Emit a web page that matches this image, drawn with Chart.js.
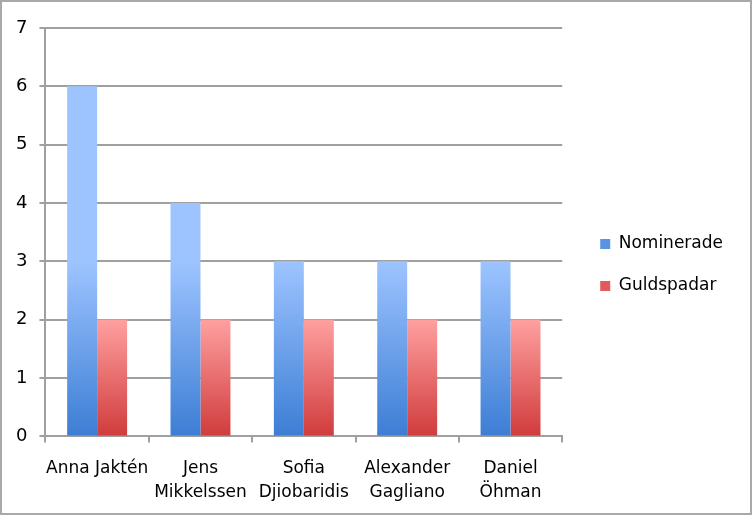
<!DOCTYPE html>
<html>
<head>
<meta charset="utf-8">
<script src="https://cdn.jsdelivr.net/npm/chart.js@4/dist/chart.umd.min.js"></script>
<style>
  html, body { margin: 0; padding: 0; background: #fff; }
  #wrap { position: absolute; left: 0; top: 0; width: 748px; height: 511px; border: 2px solid #a9a9a9; }
  canvas { position: absolute; left: 0; top: 0; }
</style>
</head>
<body>
<div id="wrap"></div>
<canvas id="c" width="752" height="515"></canvas>
<script>
const categories = [["Anna Jaktén"], ["Jens", "Mikkelssen"], ["Sofia", "Djiobaridis"], ["Alexander", "Gagliano"], ["Daniel", "Öhman"]];
const seriesNames = ["Nominerade", "Guldspadar"];
const nominerade = [6, 4, 3, 3, 3];
const guldspadar = [2, 2, 2, 2, 2];
const yTicks = [0, 1, 2, 3, 4, 5, 6, 7];

const gradStops = [
  ["#9dc4ff", "#3d7ed5"],
  ["#ffa0a0", "#d13c3c"]
];

const gradientPlugin = {
  id: 'barGradient',
  beforeDraw(chart) {
    // nudge the legend box into place
    const lg = chart.legend;
    if (lg) { lg.left += 13; lg.right += 13; lg.top -= 8; lg.bottom -= 8; }
  },
  beforeDatasetsDraw(chart) {
    const ctx = chart.ctx;
    chart.data.datasets.forEach((ds, i) => {
      const meta = chart.getDatasetMeta(i);
      meta.data.forEach(el => {
        const g = ctx.createLinearGradient(0, el.y, 0, el.base);
        g.addColorStop(0, gradStops[i][0]);
        g.addColorStop(1, gradStops[i][1]);
        el.options.backgroundColor = g;
      });
    });
  }
};

const fam = "'DejaVu Sans', sans-serif";

new Chart(document.getElementById('c'), {
  type: 'bar',
  data: {
    labels: categories,
    datasets: [
      { label: seriesNames[0], data: nominerade, backgroundColor: '#5a93e2', borderWidth: 0 },
      { label: seriesNames[1], data: guldspadar, backgroundColor: '#e45a5a', borderWidth: 0 }
    ]
  },
  options: {
    responsive: false,
    animation: false,
    devicePixelRatio: 1,
    categoryPercentage: 0.58,
    barPercentage: 1.0,
    layout: { padding: { left: 4, top: 28, right: 32, bottom: -3 } },
    plugins: {
      tooltip: { enabled: false },
      legend: {
        position: 'right',
        labels: { font: { family: fam, size: 17 }, color: '#000', boxWidth: 10, boxHeight: 10, padding: 25 }
      }
    },
    scales: {
      x: {
        grid: { display: true, offset: true, drawOnChartArea: false, drawTicks: true, tickLength: 6, color: '#a0a0a0', lineWidth: 2 },
        border: { color: '#a0a0a0', width: 2 },
        ticks: { font: { family: fam, size: 17, lineHeight: 1.4 }, color: '#000', padding: 14, maxRotation: 0, autoSkip: false }
      },
      y: {
        min: 0, max: 7,
        afterBuildTicks(axis) { axis.ticks = yTicks.map(v => ({ value: v })); },
        grid: { color: '#a0a0a0', lineWidth: 2, tickLength: 6 },
        border: { color: '#a0a0a0', width: 2 },
        ticks: { font: { family: fam, size: 18 }, color: '#000', padding: 12 }
      }
    }
  },
  plugins: [gradientPlugin]
});
</script>
</body>
</html>
